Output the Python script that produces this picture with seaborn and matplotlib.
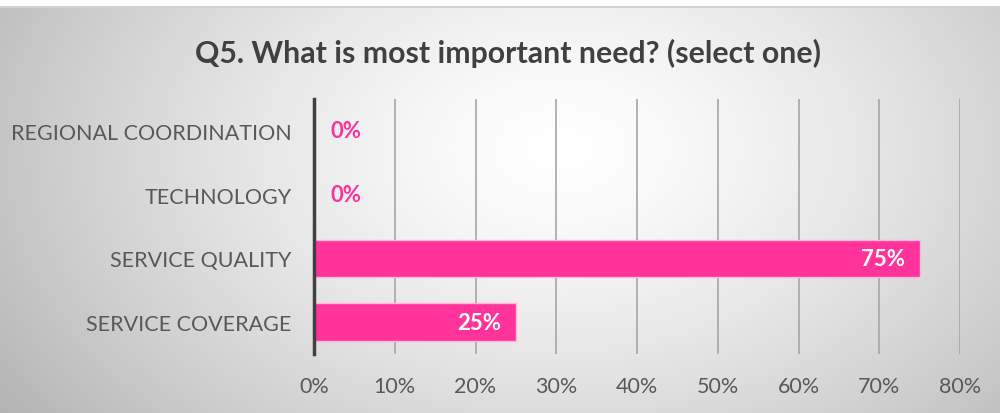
import numpy as np
import pandas as pd
import matplotlib
matplotlib.use("Agg")
import matplotlib.pyplot as plt
import seaborn as sns

# ------------------------------------------------------------
# Data
# ------------------------------------------------------------
categories = ["REGIONAL COORDINATION", "TECHNOLOGY", "SERVICE QUALITY", "SERVICE COVERAGE"]
shares = [0.00, 0.00, 0.75, 0.25]
x_ticks = [0.0, 0.1, 0.2, 0.3, 0.4, 0.5, 0.6, 0.7, 0.8]
title = "Q5. What is most important need? (select one)"

df = pd.DataFrame({"need": categories, "share": shares})

sns.set_theme(style="white")
plt.rcParams["font.family"] = ["Lato", "DejaVu Sans"]

pink = "#FF3399"
text_gray = "#595959"

fig = plt.figure(figsize=(10, 4.14), dpi=100)

# ------------------------------------------------------------
# Radial gradient background
# ------------------------------------------------------------
bg = fig.add_axes([0, 0, 1, 1], zorder=-10)
h, w = 414, 1000
yy, xx = np.mgrid[0:h, 0:w]
r = np.sqrt(((xx - 560) / 620.0) ** 2 + ((yy - 150) / 420.0) ** 2)
shade = 1.0 - 0.26 * np.clip(r, 0, 1.25) ** 1.4
img = np.dstack([shade, shade, shade])
img[:7, :, :] = 1.0
img[7:9, :, :] = 0.82
bg.imshow(img, extent=[0, 1, 0, 1], aspect="auto", origin="upper")
bg.axis("off")

# ------------------------------------------------------------
# Bars
# ------------------------------------------------------------
ax = fig.add_axes([0.314, 0.1425, 0.646, 0.616])
ax.patch.set_alpha(0)

sns.barplot(
    data=df,
    x="share",
    y="need",
    orient="h",
    color=pink,
    saturation=1,
    width=0.59,
    edgecolor="#FFB6DA",
    linewidth=1,
    ax=ax,
    zorder=3
)

ax.set_xlim(0, 0.8)
ax.set_ylim(3.5, -0.5)
ax.set_xticks(x_ticks)
ax.set_xticklabels([f"{int(round(t * 100))}%" for t in x_ticks])
ax.set_xlabel("")
ax.set_ylabel("")
ax.tick_params(axis="both", length=0, labelsize=15.5, labelcolor=text_gray)
ax.tick_params(axis="x", pad=16)
ax.tick_params(axis="y", pad=16)

ax.grid(axis="x", color="#A6A6A6", linewidth=1.2, zorder=0)
ax.set_axisbelow(True)

for side in ["top", "right", "bottom"]:
    ax.spines[side].set_visible(False)
ax.spines["left"].set_color("#404040")
ax.spines["left"].set_linewidth(2.5)
ax.spines["left"].set_zorder(5)

# Data labels
for i, v in enumerate(shares):
    label = f"{int(round(v * 100))}%"
    if v > 0.05:
        ax.text(v - 0.018, i, label, ha="right", va="center",
                color="white", fontsize=16, fontweight="bold", zorder=6)
    else:
        ax.text(v + 0.02, i, label, ha="left", va="center",
                color=pink, fontsize=16, fontweight="bold", zorder=6)

fig.text(0.508, 0.872, title, ha="center", va="center",
         fontsize=21.8, fontweight="bold", color="#404040")

fig.savefig("out.png", dpi=100)
